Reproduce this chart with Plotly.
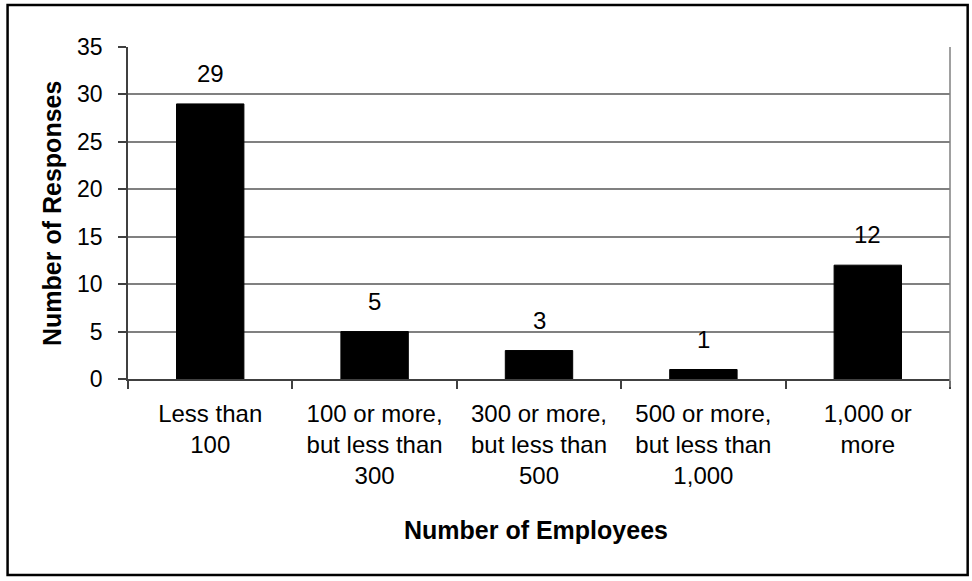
import plotly.graph_objects as go

# Survey responses by company size
categories = [
    "Less than<br>100",
    "100 or more,<br>but less than<br>300",
    "300 or more,<br>but less than<br>500",
    "500 or more,<br>but less than<br>1,000",
    "1,000 or<br>more",
]
responses = [29, 5, 3, 1, 12]
y_ticks = [0, 5, 10, 15, 20, 25, 30, 35]

FONT = "Liberation Sans, Arial, sans-serif"

fig = go.Figure()
fig.add_trace(go.Bar(
    x=categories,
    y=responses,
    width=0.41,
    marker=dict(color="black", line=dict(color="black", width=1)),
    hoverinfo="x+y",
))

# Value labels above each bar
for cat, val in zip(categories, responses):
    fig.add_annotation(
        x=cat, y=val, text=str(val), showarrow=False,
        xanchor="center", yanchor="bottom", yshift=15,
        font=dict(family=FONT, size=24, color="black"),
    )

# Axis titles
fig.add_annotation(
    xref="paper", yref="paper", x=-0.0925, y=0.5,
    text="<b>Number of Responses</b>", textangle=-90, showarrow=False,
    xanchor="center", yanchor="middle",
    font=dict(family=FONT, size=25, color="black"),
)
fig.add_annotation(
    xref="paper", yref="paper", x=0.496, y=-0.455,
    text="<b>Number of Employees</b>", showarrow=False,
    xanchor="center", yanchor="middle",
    font=dict(family=FONT, size=25, color="black"),
)

# Right edge of the plot area, running down to the last tick
fig.add_shape(
    type="line", xref="paper", yref="paper",
    x0=1, x1=1, y0=-0.024, y1=1,
    line=dict(color="#808080", width=1.5),
)
# Outer chart border
fig.add_shape(
    type="rect", xref="paper", yref="paper",
    x0=-0.1465, x1=1.0215, y0=-0.5905, y1=1.1265,
    line=dict(color="black", width=2.5),
)

fig.update_layout(
    width=972, height=581,
    margin=dict(l=128, r=22, t=47, b=202),
    paper_bgcolor="white", plot_bgcolor="white",
    showlegend=False,
    font=dict(family=FONT, color="black"),
    xaxis=dict(
        type="category",
        tickson="boundaries",
        ticks="outside", ticklen=8, tickcolor="#404040", tickwidth=1.5,
        showline=True, linecolor="#404040", linewidth=1.5,
        showgrid=False,
        tickfont=dict(family=FONT, size=24, color="black"),
        ticklabelstandoff=12,
        automargin=False,
    ),
    yaxis=dict(
        range=[0, 35],
        tickvals=y_ticks,
        ticks="outside", ticklen=8, tickcolor="#404040", tickwidth=1.5,
        showline=True, linecolor="#404040", linewidth=1.5,
        showgrid=True, gridcolor="#808080", gridwidth=1.5,
        zeroline=False,
        tickfont=dict(family=FONT, size=23, color="black"),
        ticklabelstandoff=11,
        automargin=False,
    ),
)

fig.write_html("out.html")
